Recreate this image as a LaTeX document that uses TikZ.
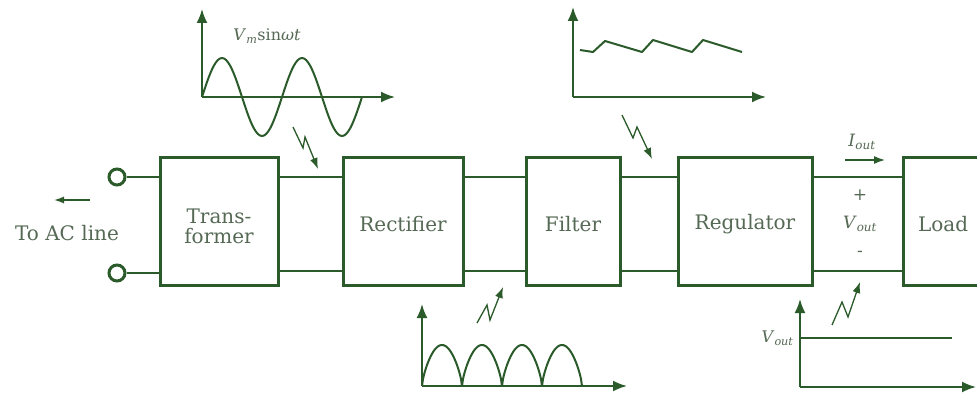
\documentclass[tikz,border=0pt]{standalone}
\usepackage{fontspec}
\setmainfont{DejaVu Serif}
\usetikzlibrary{arrows.meta,positioning,calc}
\definecolor{wire}{RGB}{43,90,43}
\definecolor{ink}{RGB}{85,105,85}
\newcommand{\sub}[2]{\textit{#1}\textsubscript{\textit{#2}}}
\newcommand{\droptext}[2]{\raisebox{-#1}[\height][\depth]{#2}}
\tikzset{
  blockbox/.style={draw=wire, line width=3pt, minimum height=127pt, inner sep=0pt,
    align=center, text=ink, font=\fontsize{20}{23}\selectfont},
  lead/.style={draw=wire, line width=2.6pt},
  axis/.style={draw=wire, line width=2pt, -{Latex[length=14pt,width=11pt]}},
  wave/.style={draw=wire, line width=2pt, line join=round},
  zap/.style={draw=wire, line width=1.3pt, -{Latex[length=11pt,width=8pt]}},
  term/.style={circle, draw=wire, fill=white, line width=3pt, minimum size=16pt, inner sep=0pt},
  lbl/.style={text=ink, font=\fontsize{20}{23}\selectfont},
  mlbl/.style={text=ink, font=\fontsize{17}{17}\selectfont}
}
\begin{document}
\begin{tikzpicture}[x=1pt, y=-1pt]
  \clip (0,0) rectangle (977,398);
  \fill[white] (0,0) rectangle (977,398);
  %
  \coordinate (top) at (0,177);
  \coordinate (bot) at (0,271);
  %
  \node[blockbox, minimum width=118pt] (trans) at (219,221.5) {\droptext{5pt}{\shortstack{Trans-\\[2pt]former}}};
  \node[blockbox, minimum width=120pt] (rect) at (403,221.5) {\droptext{3pt}{Rectifier}};
  \node[blockbox, minimum width=94pt] (filt) at (573,221.5) {\droptext{3pt}{Filter}};
  \node[blockbox, minimum width=134pt] (reg) at (745,221.5) {\droptext{3pt}{Regulator}};
  \node[blockbox, minimum width=110pt, text width=80pt, align=left] (load) at (958,221.5) {\droptext{3pt}{Load}};
  %
  \node[term] (ac1) at (117,177) {};
  \node[term] (ac2) at (117,273) {};
  \draw[lead] (ac1.east) -- (trans.west |- ac1);
  \draw[lead] (ac2.east) -- (trans.west |- ac2);
  %
  \foreach \a/\b in {trans/rect, rect/filt, filt/reg, reg/load} {
    \draw[lead] (\a.east |- top) -- (\b.west |- top);
    \draw[lead] (\a.east |- bot) -- (\b.west |- bot);
  }
  %
  \coordinate (acs) at (90,200);
  \coordinate (ace) at (54,200);
  \draw[wire, line width=1.4pt, -{Latex[length=10pt,width=7pt]}] (acs) -- (ace);
  \node[lbl] (acl) at (67,233) {To AC line};
  %
  \node[mlbl] (vplus) at (860,195) {+};
  \node[mlbl] (vout) at (860,224) {\sub{V}{out}};
  \node[mlbl] (vminus) at (860,254) {-};
  \node[mlbl] (iout) at (862,142) {\sub{I}{out}};
  \coordinate (ios) at (845,160);
  \coordinate (ioe) at (885,160);
  \draw[wire, line width=1.6pt, -{Latex[length=11pt,width=8pt]}] (ios) -- (ioe);
  %
  % sine input
  \coordinate (o1) at (202,97);
  \draw[axis] (o1) -- (202,9);
  \draw[axis] (o1) -- (395,97);
  \draw[wave] plot[domain=0:160, samples=81, smooth] ({202+\x},{97-39*sin(\x*4.5)});
  \node[mlbl, font=\fontsize{16}{16}\selectfont] (vm) at (267,36) {\sub{V}{m}sin\textit{ωt}};
  \draw[zap] (293,127) -- (303,148) -- (305,137) -- (318,169);
  %
  % rectified
  \coordinate (o2) at (422,386);
  \draw[axis] (o2) -- (422,304);
  \draw[axis] (o2) -- (627,386);
  \draw[wave] plot[domain=0:160, samples=161] ({422+\x},{386-41*abs(sin(\x*4.5))^0.7});
  \draw[zap] (477,323) -- (487,305) -- (490,320) -- (503,287);
  %
  % filtered
  \coordinate (o3) at (573,97);
  \draw[axis] (o3) -- (573,7);
  \draw[axis] (o3) -- (766,97);
  \draw[wave] (580,50) -- (593,52) -- (605,41) -- (642,52) -- (653,40) -- (692,52) -- (703,40) -- (742,52);
  \draw[zap] (622,115) -- (633,138) -- (637,127) -- (652,159);
  %
  % regulated
  \coordinate (o4) at (800,387);
  \draw[axis] (o4) -- (800,299);
  \draw[axis] (o4) -- (976,387);
  \draw[wave] (800,338) -- (952,338);
  \node[mlbl, font=\fontsize{16}{16}\selectfont, anchor=east] (vol) at (797,338) {\sub{V}{out}};
  \draw[zap] (832,325) -- (842,302) -- (848,317) -- (860,282);
\end{tikzpicture}
\end{document}
